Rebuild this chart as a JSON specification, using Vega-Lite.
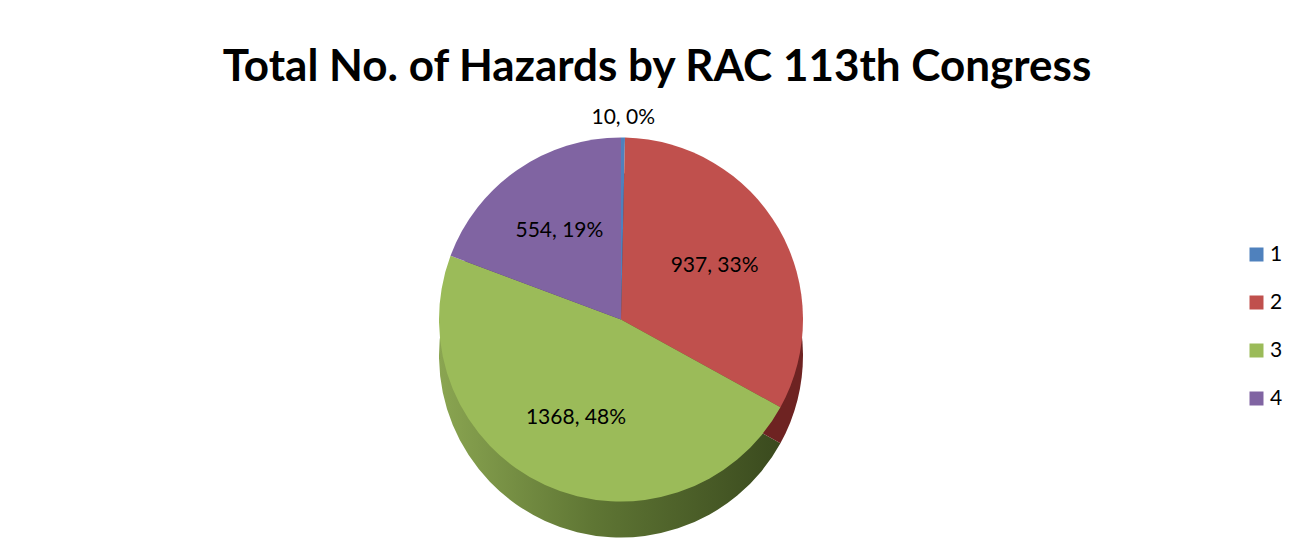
{
  "$schema": "https://vega.github.io/schema/vega-lite/v6.json",
  "width": 1308,
  "height": 556,
  "autosize": {"type": "fit", "contains": "padding"},
  "padding": {"left": 6, "top": 46, "right": 72, "bottom": 11},
  "background": "white",
  "title": {
    "text": "Total No. of  Hazards by RAC 113th Congress",
    "font": "Lato",
    "fontSize": 44,
    "fontWeight": "bold",
    "color": "#000000",
    "anchor": "middle",
    "frame": "group",
    "dx": 36,
    "offset": 4
  },
  "config": {"view": {"stroke": null}},
  "data": {
    "values": [
      {"cat": "1", "n": 10, "label": "10, 0%"},
      {"cat": "2", "n": 937, "label": "937, 33%"},
      {"cat": "3", "n": 1368, "label": "1368, 48%"},
      {"cat": "4", "n": 554, "label": "554, 19%"}
    ]
  },
  "transform": [
    {"stack": "n", "groupby": [], "sort": [{"field": "cat", "order": "ascending"}], "as": ["s0", "s1"]}
  ],
  "layer": [
    {
      "transform": [{"filter": "datum.cat == '3'"}],
      "mark": {
        "type": "arc",
        "outerRadius": 182,
        "yOffset": 36,
        "fill": {
          "gradient": "linear", "x1": 0, "x2": 1, "y1": 0, "y2": 0,
          "stops": [
            {"offset": 0, "color": "#8aa551"},
            {"offset": 0.45, "color": "#5f7634"},
            {"offset": 1, "color": "#3a4a1e"}
          ]
        }
      },
      "encoding": {
        "theta": {"field": "s0", "type": "quantitative", "scale": {"domain": [0, 2869]}},
        "theta2": {"field": "s1"}
      }
    },
    {
      "transform": [{"filter": "datum.cat != '3'"}],
      "mark": {"type": "arc", "outerRadius": 182, "yOffset": 36},
      "encoding": {
        "theta": {"field": "s0", "type": "quantitative", "scale": {"domain": [0, 2869]}},
        "theta2": {"field": "s1"},
        "fill": {
          "field": "cat", "type": "nominal", "legend": null,
          "scale": {"domain": ["1", "2", "4"], "range": ["#2c4d75", "#6e2322", "#4b3a61"]}
        }
      }
    },
    {
      "mark": {"type": "arc", "outerRadius": 182},
      "encoding": {
        "theta": {"field": "s0", "type": "quantitative", "scale": {"domain": [0, 2869]}},
        "theta2": {"field": "s1"},
        "color": {
          "field": "cat", "type": "nominal", "title": null,
          "scale": {"domain": ["1", "2", "3", "4"], "range": ["#4f81bd", "#c0504d", "#9bbb59", "#8064a2"]},
          "legend": {
            "orient": "none",
            "legendX": 1240,
            "legendY": 150,
            "symbolType": "square",
            "symbolSize": 196,
            "symbolStrokeWidth": 0,
            "labelFont": "Lato",
            "labelFontSize": 21,
            "labelColor": "#000000",
            "rowPadding": 26,
            "labelOffset": 3
          }
        }
      }
    },
    {
      "transform": [{"calculate": "(datum.s0 + datum.s1) / 2", "as": "mid"}],
      "mark": {"type": "text", "radius": 108, "font": "Lato", "fontSize": 21, "color": "#000000"},
      "encoding": {
        "theta": {"field": "mid", "type": "quantitative", "scale": {"domain": [0, 2869]}},
        "text": {"condition": {"test": "datum.cat == '1'", "value": ""}, "field": "label", "type": "nominal"}
      }
    },
    {
      "transform": [{"calculate": "(datum.s0 + datum.s1) / 2", "as": "mid"}],
      "mark": {"type": "text", "radius": 202, "font": "Lato", "fontSize": 21, "color": "#000000"},
      "encoding": {
        "theta": {"field": "mid", "type": "quantitative", "scale": {"domain": [0, 2869]}},
        "text": {"condition": {"test": "datum.cat != '1'", "value": ""}, "field": "label", "type": "nominal"}
      }
    }
  ]
}
